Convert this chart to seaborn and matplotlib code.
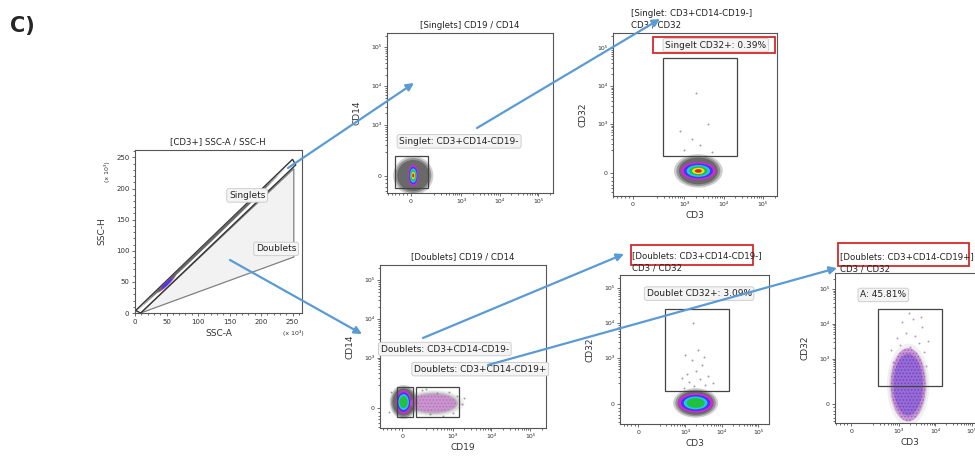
import numpy as np
import pandas as pd
import matplotlib.pyplot as plt
import seaborn as sns
from matplotlib.patches import Ellipse, Rectangle, Polygon

sns.set_style('ticks')
plt.rcParams['font.family'] = ['DejaVu Sans']
plt.rcParams['hatch.linewidth'] = 0.7

# ---------------- data ----------------
# panel 1 : SSC-A / SSC-H (x 10^3)
ssc_ticks = [0, 50, 100, 150, 200, 250]
singlet_gate_x = [1, 250, 255, 9]
singlet_gate_y = [4, 247, 238, 0]
doublet_gate_x = [9, 252, 252]
doublet_gate_y = [0, 232, 90]

# biexponential axes (display units)
bi_ticks = [0, 1.3, 2.3, 3.3]
bi_labels = ['0', '10³', '10⁴', '10⁵']

# gates on the fluorescence plots: x0, x1, y0, y1
gate_panel = ['p2', 'p3', 'p4', 'p4', 'p5', 'p6']
gate_x0 = [-0.41, 0.77, -0.14, 0.35, 0.73, 0.73]
gate_x1 = [0.43, 2.65, 0.28, 1.45, 2.49, 2.49]
gate_y0 = [-0.32, 0.45, -0.23, -0.23, 0.37, 0.50]
gate_y1 = [0.49, 3.04, 0.54, 0.54, 2.71, 2.73]

# populations: centre, halo half size, core half size, colour depth, angle
pop_panel = ['p1', 'p1', 'p2', 'p3', 'p4', 'p4', 'p5', 'p6']
pop_x = [120, 50, 0.06, 1.66, 0.03, 0.80, 1.58, 1.56]
pop_y = [117, 47, 0.0, 0.06, 0.15, 0.12, 0.03, 0.55]
pop_hw = [165, 22, 0.52, 0.62, 0.36, 0.80, 0.62, 0.58]
pop_hh = [2.5, 3.5, 0.50, 0.44, 0.44, 0.34, 0.42, 1.18]
pop_cw = [0, 14, 0.13, 0.44, 0.20, 0.60, 0.48, 0.48]
pop_ch = [0, 2.5, 0.27, 0.23, 0.30, 0.24, 0.27, 1.05]
pop_depth = [0, 2, 6, 6, 4, 1, 4, 2]
pop_angle = [44.3, 44.3, 0, 0, 0, 0, 0, 0]

# sparse events
p3_ev_x = [1.30, 1.70, 1.50, 2.00, 1.20, 1.90, 1.60]
p3_ev_y = [0.60, 0.75, 0.90, 0.55, 1.10, 1.30, 2.10]
p4_ev_x = [-0.30, 0.50, 0.90, 1.20, 1.40, 1.55, 0.70, 1.05, 1.30, -0.35, 1.60, 0.60]
p4_ev_y = [0.40, 0.45, 0.38, 0.42, 0.30, 0.10, -0.15, -0.20, -0.12, -0.10, 0.25, 0.50]
p5_ev_x = [1.25, 1.40, 1.55, 1.70, 1.85, 1.35, 1.60, 1.75, 1.48, 1.92, 1.30, 1.66, 2.05, 1.52, 1.20, 1.80]
p5_ev_y = [0.45, 0.62, 0.50, 0.70, 0.55, 0.85, 0.95, 1.10, 1.25, 0.80, 1.40, 1.55, 0.60, 2.30, 0.75, 1.35]
p6_ev_x = [1.10, 1.35, 1.60, 1.85, 2.00, 1.25, 1.50, 1.75, 1.95, 1.40, 1.70, 2.10, 1.58, 1.90, 1.15, 2.05]
p6_ev_y = [1.55, 1.70, 1.62, 1.75, 1.50, 1.90, 2.05, 1.95, 2.20, 2.35, 2.45, 1.80, 2.60, 2.50, 1.20, 1.10]

# gate labels
lab_panel = ['p1', 'p1', 'p2', 'p3', 'p4', 'p4', 'p5', 'p6']
lab_text = ['Singlets', 'Doublets', 'Singlet: CD3+CD14-CD19-', 'Singelt CD32+: 0.39%',
            'Doublets: CD3+CD14-CD19-', 'Doublets: CD3+CD14-CD19+',
            'Doublet CD32+: 3.09%', 'A: 45.81%']
lab_x = [178, 224, -0.30, 0.82, -0.56, 0.30, 0.23, 0.25]
lab_y = [189, 103, 0.88, 3.37, 1.52, 1.00, 3.15, 3.13]

gates = pd.DataFrame({'panel': gate_panel, 'x0': gate_x0, 'x1': gate_x1,
                      'y0': gate_y0, 'y1': gate_y1})
pops = pd.DataFrame({'panel': pop_panel, 'x': pop_x, 'y': pop_y, 'hw': pop_hw, 'hh': pop_hh,
                     'cw': pop_cw, 'ch': pop_ch, 'depth': pop_depth, 'angle': pop_angle})
labels = pd.DataFrame({'panel': lab_panel, 'text': lab_text, 'x': lab_x, 'y': lab_y})

# ---------------- layout (pixels) ----------------
W, H = 975, 458
fig = plt.figure(figsize=(W / 100, H / 100), dpi=100)

boxes = {'p1': (135, 150, 302, 313), 'p2': (387, 33, 553, 193), 'p3': (613, 33, 777, 196),
         'p4': (380, 265, 546, 428), 'p5': (620, 275, 769, 424), 'p6': (835, 273, 985, 423)}
limits = {'p1': ((0, 265), (0, 262)),
          'p2': ((-0.62, 3.68), (-0.45, 3.67)), 'p3': ((-0.51, 3.66), (-0.60, 3.69)),
          'p4': ((-0.58, 3.71), (-0.52, 3.69)), 'p5': ((-0.50, 3.60), (-0.57, 3.68)),
          'p6': ((-0.44, 3.66), (-0.55, 3.76))}
axlabels = {'p1': ('SSC-A', 'SSC-H'), 'p2': ('', 'CD14'), 'p3': ('CD3', 'CD32'),
            'p4': ('CD19', 'CD14'), 'p5': ('CD3', 'CD32'), 'p6': ('CD3', 'CD32')}

dens_cols = ['#e01ee0', '#3a3af0', '#20c8e8', '#22c040', '#f0e020', '#e42010']
bi_minor = [d + np.log10(k) for d in (0.3, 1.3, 2.3, 3.3) for k in range(2, 10)]
bi_minor += [-0.1 * k for k in range(1, 7)]

axes = {}
for key, (l, t, r, b) in boxes.items():
    ax = fig.add_axes([l / W, 1 - b / H, (r - l) / W, (b - t) / H])
    axes[key] = ax
    ax.set_xlim(limits[key][0])
    ax.set_ylim(limits[key][1])
    for s in ax.spines.values():
        s.set_color('#555555')
        s.set_linewidth(0.8)
    ax.tick_params(which='both', direction='out', colors='#555555', labelsize=4.5,
                   width=0.6, pad=1.5, labelcolor='#333333')
    ax.tick_params(which='major', length=2.5)
    ax.tick_params(which='minor', length=1.3)
    if key == 'p1':
        ax.set_xticks(ssc_ticks)
        ax.set_yticks(ssc_ticks)
        ax.set_xticks(range(0, 261, 10), minor=True)
        ax.set_yticks(range(0, 261, 10), minor=True)
        ax.tick_params(labelsize=5)
    else:
        ax.set_xticks(bi_ticks, bi_labels)
        ax.set_yticks(bi_ticks, bi_labels)
        xl, yl = limits[key]
        ax.set_xticks([m for m in bi_minor if xl[0] < m < xl[1]], minor=True)
        ax.set_yticks([m for m in bi_minor if yl[0] < m < yl[1]], minor=True)
    ax.set_xlabel(axlabels[key][0], fontsize=6.5, labelpad=3, color='#333333')
    ax.set_ylabel(axlabels[key][1], fontsize=6.5, labelpad=7, color='#333333')

# ---------------- panel 1 gates ----------------
ax1 = axes['p1']
ax1.add_patch(Polygon(np.column_stack([doublet_gate_x, doublet_gate_y]), closed=True,
                      fc='#f2f2f2', ec='#808080', lw=0.9, zorder=1))
ax1.add_patch(Polygon(np.column_stack([singlet_gate_x, singlet_gate_y]), closed=True,
                      fc='white', ec='#333333', lw=1.0, zorder=2))

# ---------------- populations ----------------
for _, p in pops.iterrows():
    ax = axes[p['panel']]
    z = 3
    light = p['panel'] == 'p6' or p['depth'] == 1
    halo = [(1.0, 0.3), (0.9, 0.5), (0.8, 0.8)]
    for s, a in halo:
        ax.add_patch(Ellipse((p['x'], p['y']), 2 * p['hw'] * s, 2 * p['hh'] * s,
                             angle=p['angle'], fc='#5e5e5e', ec='none',
                             alpha=a * (0.3 if light else 1), zorder=z))
    for i in range(int(p['depth'])):
        s = 1 - i * 0.16
        if p['panel'] == 'p6':
            ax.add_patch(Ellipse((p['x'], p['y']), 2 * p['cw'] * s, 2 * p['ch'] * s,
                                 angle=p['angle'], fc=['#c060d8', '#6a50e0'][i], ec='#8a2cc0', lw=0,
                                 hatch='.....', alpha=0.5, zorder=z + 1))
        elif p['depth'] == 1:
            ax.add_patch(Ellipse((p['x'], p['y']), 2 * p['cw'] * s, 2 * p['ch'] * s,
                                 angle=p['angle'], fc='#d66ce0', ec='#b040c0', lw=0,
                                 hatch='.....', alpha=0.45, zorder=z + 1))
        else:
            ax.add_patch(Ellipse((p['x'], p['y']), 2 * p['cw'] * s, 2 * p['ch'] * s,
                                 angle=p['angle'], fc=dens_cols[i], ec='none',
                                 zorder=z + 1 + i))

for key, ex, ey in [('p3', p3_ev_x, p3_ev_y), ('p4', p4_ev_x, p4_ev_y),
                    ('p5', p5_ev_x, p5_ev_y), ('p6', p6_ev_x, p6_ev_y)]:
    col = '#9a6ac0' if key == 'p6' else '#777777'
    sns.scatterplot(x=ex, y=ey, ax=axes[key], s=2, color=col, linewidth=0, alpha=0.7, zorder=3)

# ---------------- gates ----------------
for _, g in gates.iterrows():
    axes[g['panel']].add_patch(Rectangle((g['x0'], g['y0']), g['x1'] - g['x0'], g['y1'] - g['y0'],
                                         fill=False, ec='#444444', lw=0.9, zorder=12))

for _, lb in labels.iterrows():
    ax = axes[lb['panel']]
    ha = 'center' if lb['panel'] == 'p1' else 'left'
    ax.text(lb['x'], lb['y'], lb['text'], fontsize=6.5,
            ha=ha, va='center', color='#222222', zorder=15,
            bbox=dict(boxstyle='round,pad=0.25', fc='#f4f4f4', ec='#c8c8c8', lw=0.6))

# ---------------- overlay: titles, arrows, red boxes ----------------
ov = fig.add_axes([0, 0, 1, 1], zorder=20)
ov.set_xlim(0, W)
ov.set_ylim(H, 0)
ov.axis('off')
ov.patch.set_alpha(0)

tkw = dict(fontsize=6.2, color='#222222', va='center')
ov.text(218, 142, '[CD3+] SSC-A / SSC-H', ha='center', **tkw)
ov.text(470, 25, '[Singlets] CD19 / CD14', ha='center', **tkw)
ov.text(631, 13, '[Singlet: CD3+CD14-CD19-]', ha='left', **tkw)
ov.text(631, 25, 'CD3 / CD32', ha='left', **tkw)
ov.text(463, 257, '[Doublets] CD19 / CD14', ha='center', **tkw)
ov.text(632, 256, '[Doublets: CD3+CD14-CD19-]', ha='left', **tkw)
ov.text(632, 268, 'CD3 / CD32', ha='left', **tkw)
ov.text(840, 257, '[Doublets: CD3+CD14-CD19+]', ha='left', **tkw)
ov.text(840, 269, 'CD3 / CD32', ha='left', **tkw)
ov.text(107, 172, '(x 10³)', fontsize=4.5, rotation=90, ha='center', va='center', color='#333333')
ov.text(293, 333, '(x 10³)', fontsize=4.5, ha='center', va='center', color='#333333')
ov.text(10, 26, 'C)', fontsize=15, fontweight='bold', ha='left', va='center')

for (x0, y0, x1, y1) in [(653, 37, 775, 53), (631, 245, 753, 265), (838, 243, 969, 266)]:
    ov.add_patch(Rectangle((x0, y0), x1 - x0, y1 - y0, fill=False, ec='#d42a2a', lw=1.3))

for (x0, y0, x1, y1) in [(288, 168, 414, 83), (477, 128, 660, 19), (230, 260, 362, 334),
                         (423, 338, 624, 254), (488, 365, 837, 268)]:
    ov.annotate('', xy=(x1, y1), xytext=(x0, y0),
                arrowprops=dict(arrowstyle='-|>', color='#5b9bd5', lw=1.6,
                                mutation_scale=11, shrinkA=0, shrinkB=0))

fig.savefig('out.png', dpi=100)
